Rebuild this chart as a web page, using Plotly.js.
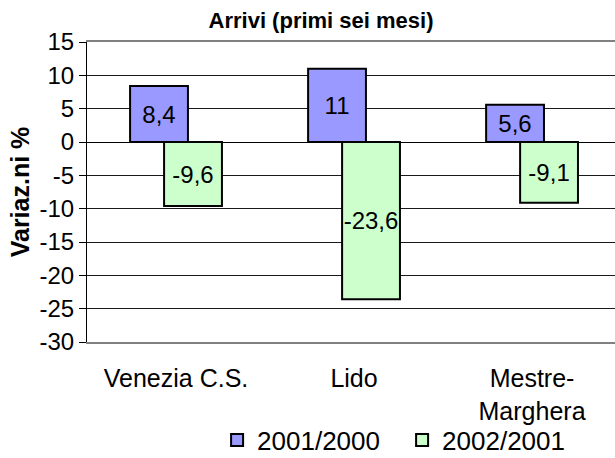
<!DOCTYPE html>
<html>
<head>
<meta charset="utf-8">
<script src="https://cdn.plot.ly/plotly-3.0.1.min.js"></script>
<style>html,body{margin:0;padding:0;background:#fff;}#chart{width:615px;height:458px;}</style>
</head>
<body>
<div id="chart"></div>
<script>
var categories = ["Venezia C.S.", "Lido", "Mestre-<br>Marghera"];
var seriesNames = ["2001/2000", "2002/2001"];
var values2001 = [8.4, 11, 5.6];
var values2002 = [-9.6, -23.6, -9.1];
var yTickVals = [15, 10, 5, 0, -5, -10, -15, -20, -25, -30];
var yTickText = ["15", "10", "5", "0", "-5", "-10", "-15", "-20", "-25", "-30"];

function fmt(v) { return String(v).replace('.', ','); }
var FONT = "Liberation Sans, Arial, sans-serif";

var traces = [
  {
    type: 'bar', name: seriesNames[0], x: categories, y: values2001,
    text: values2001.map(fmt), textposition: 'inside', insidetextanchor: 'middle',
    textfont: {family: FONT, size: 24, color: '#000'}, textangle: 0,
    constraintext: 'none',
    width: 0.325, offset: -0.258,
    marker: {color: '#9999FF', line: {color: '#000', width: 2}},
    hoverinfo: 'none'
  },
  {
    type: 'bar', name: seriesNames[1], x: categories, y: values2002,
    text: values2002.map(fmt), textposition: 'inside', insidetextanchor: 'middle',
    textfont: {family: FONT, size: 24, color: '#000'}, textangle: 0,
    constraintext: 'none',
    width: 0.325, offset: -0.067,
    marker: {color: '#CCFFCC', line: {color: '#000', width: 2}},
    hoverinfo: 'none'
  }
];

var layout = {
  width: 615, height: 458,
  margin: {l: 87, r: 0, t: 42, b: 116, pad: 0},
  paper_bgcolor: '#fff', plot_bgcolor: '#fff',
  font: {family: FONT, size: 24, color: '#000'},
  barmode: 'overlay',
  showlegend: true,
  title: {text: '<b>Arrivi (primi sei mesi)</b>', font: {family: FONT, size: 22, color: '#000'},
          x: 0.522, xanchor: 'center', y: 0.956, yanchor: 'middle', yref: 'container'},
  xaxis: {
    type: 'category', range: [-0.5, 2.466], fixedrange: true,
    showgrid: false, zeroline: false, ticks: '',
    showline: true, linecolor: '#808080', linewidth: 2, mirror: true,
    tickfont: {family: FONT, size: 25, color: '#000'},
    ticklabelstandoff: 13
  },
  xaxis2: {
    overlaying: 'x', anchor: 'free', position: 0.6667, range: [-0.5, 2.466],
    tickmode: 'array', tickvals: [0.5, 1.5], ticks: 'outside', ticklen: 6, tickcolor: '#000', tickwidth: 1,
    showticklabels: false, showgrid: false, zeroline: false, showline: false
  },
  yaxis: {
    range: [-30, 15], fixedrange: true,
    tickmode: 'array', tickvals: yTickVals, ticktext: yTickText,
    ticks: 'outside', ticklen: 7, tickcolor: '#000', tickwidth: 1,
    showgrid: true, gridcolor: '#1a1a1a', gridwidth: 1,
    zeroline: true, zerolinecolor: '#000', zerolinewidth: 1,
    showline: true, linecolor: '#000', linewidth: 1,
    tickfont: {family: FONT, size: 24, color: '#000'},
    title: {text: '<b>Variaz.ni %</b>', font: {family: FONT, size: 25, color: '#000'}, standoff: 2}
  },
  legend: {
    orientation: 'h', x: 0.353, xref: 'container', xanchor: 'left', y: 0.039, yanchor: 'middle', yref: 'container',
    entrywidth: 140, entrywidthmode: 'pixels',
    font: {family: FONT, size: 26, color: '#000'}, bgcolor: 'rgba(0,0,0,0)', itemclick: false
  }
};

Plotly.newPlot('chart', traces, layout, {staticPlot: true, displayModeBar: false});
</script>
</body>
</html>
